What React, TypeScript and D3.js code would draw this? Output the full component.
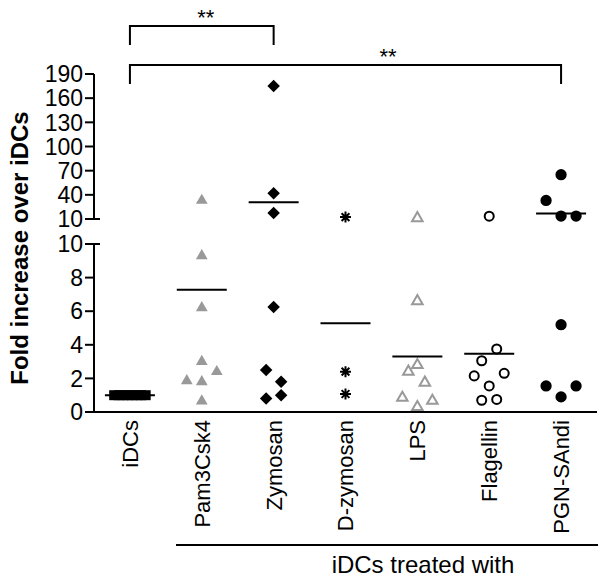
import * as d3 from 'd3';

// categories along the x axis
const categories = ['iDCs', 'Pam3Csk4', 'Zymosan', 'D-zymosan', 'LPS', 'Flagellin', 'PGN-SAndi'];

// fold increase values, one array per group
const iDCsValues = [1, 1, 1, 1, 1, 1, 1, 1];
const pamValues = [33, 9.3, 6.2, 3.0, 2.4, 1.85, 1.8, 0.65];
const zymosanValues = [175, 42, 17.4, 6.25, 2.5, 1.8, 1.0, 0.8];
const dZymosanValues = [12.4, 2.4, 1.07];
const lpsValues = [11, 6.6, 2.8, 2.4, 1.75, 0.85, 0.67, 0.3];
const flagellinValues = [13.5, 3.75, 3.05, 2.3, 2.15, 1.55, 0.7, 0.75];
const pgnValues = [65, 33, 13.7, 13.7, 5.2, 1.55, 1.55, 0.9];

// side-by-side lane of each point (GraphPad spreads overlapping points)
const iDCsLanes = [-1.05, -0.75, -0.45, -0.15, 0.15, 0.45, 0.75, 1.05];
const pamLanes = [0, 0, 0, 0, 1, -1, 0, 0];
const zymosanLanes = [0, 0, 0, 0, -0.5, 0.5, 0.5, -0.5];
const dZymosanLanes = [0, 0, 0];
const lpsLanes = [0, 0, 0, -0.6, 0.5, -1, 1, 0];
const flagellinLanes = [0, 0.5, -0.5, 1, -1, 0, -0.5, 0.5];
const pgnLanes = [0, -1, 0, 1, 0, -1, 1, 0];

// axis ticks
const lowTicks = [0, 2, 4, 6, 8, 10];
const highTicks = [10, 40, 70, 100, 130, 160, 190];

// significance brackets: [from, to, label]
const brackets: [string, string, string][] = [
  ['iDCs', 'Zymosan', '**'],
  ['iDCs', 'PGN-SAndi', '**'],
];

const groupLabel = 'iDCs treated with';
const yTitle = 'Fold increase over iDCs';

const groups = [
  { values: iDCsValues, lanes: iDCsLanes, marker: 'square' },
  { values: pamValues, lanes: pamLanes, marker: 'triangle' },
  { values: zymosanValues, lanes: zymosanLanes, marker: 'diamond' },
  { values: dZymosanValues, lanes: dZymosanLanes, marker: 'asterisk' },
  { values: lpsValues, lanes: lpsLanes, marker: 'triangleOpen' },
  { values: flagellinValues, lanes: flagellinLanes, marker: 'circleOpen' },
  { values: pgnValues, lanes: pgnLanes, marker: 'circle' },
];

const FONT = '"Liberation Sans", Arial, Helvetica, sans-serif';
const GRAY = '#999999';
const LANE = 15;

const x = d3.scaleBand<string>().domain(categories).range([94, 597]);
const cx = (c: string) => (x(c) ?? 0) + x.bandwidth() / 2;

const yLow = d3.scaleLinear().domain([0, 10]).range([412, 244]);
const yHigh = d3.scaleLinear().domain([10, 190]).range([219, 74]);
const y = (v: number) => (v <= 10 ? yLow(v) : yHigh(v));

const triPath = d3.symbol(d3.symbolTriangle, 60)()!;
const triOpenPath = d3.symbol(d3.symbolTriangle, 48)()!;
const squarePath = d3.symbol(d3.symbolSquare, 100)()!;
const diamondPath = d3.symbol(d3.symbolSquare, 78)()!;
const circlePath = d3.symbol(d3.symbolCircle, 100)()!;
const circleOpenPath = d3.symbol(d3.symbolCircle, 64)()!;

function asteriskPath(r: number) {
  const p = d3.path();
  for (let i = 0; i < 4; i++) {
    const a = (i * Math.PI) / 4;
    p.moveTo(-r * Math.cos(a), -r * Math.sin(a));
    p.lineTo(r * Math.cos(a), r * Math.sin(a));
  }
  return p.toString();
}

function Marker({ type, px, py }: { type: string; px: number; py: number }) {
  const t = `translate(${px},${py})`;
  switch (type) {
    case 'square':
      return <path d={squarePath} transform={t} fill="#000" />;
    case 'triangle':
      return <path d={triPath} transform={t} fill={GRAY} />;
    case 'triangleOpen':
      return <path d={triOpenPath} transform={t} fill="#fff" stroke={GRAY} strokeWidth={2} />;
    case 'diamond':
      return <path d={diamondPath} transform={`${t} rotate(45)`} fill="#000" />;
    case 'circle':
      return <path d={circlePath} transform={t} fill="#000" />;
    case 'circleOpen':
      return <path d={circleOpenPath} transform={t} fill="#fff" stroke="#000" strokeWidth={2} />;
    default:
      return <path d={asteriskPath(5.5)} transform={t} stroke="#000" strokeWidth={2} />;
  }
}

export default function App() {
  const axisX = 94;
  return (
    <svg width={605} height={582} style={{ position: 'absolute', left: 0, top: 0 }} fontFamily={FONT}>
      <rect width={605} height={582} fill="#fff" />

      {/* y axis, upper segment */}
      <line x1={axisX} x2={axisX} y1={yHigh(190)} y2={yHigh(10)} stroke="#000" strokeWidth={2} />
      {highTicks.map((t) => (
        <g key={'h' + t}>
          <line x1={axisX - 9} x2={t === 10 ? axisX + 6 : axisX} y1={yHigh(t)} y2={yHigh(t)} stroke="#000" strokeWidth={2} />
          <text x={axisX - 11} y={yHigh(t)} dy="0.36em" textAnchor="end" fontSize={23}>{t}</text>
        </g>
      ))}

      {/* y axis, lower segment */}
      <line x1={axisX} x2={axisX} y1={yLow(10)} y2={yLow(0)} stroke="#000" strokeWidth={2} />
      {lowTicks.map((t) => (
        <g key={'l' + t}>
          <line x1={axisX - 9} x2={t === 10 ? axisX + 6 : axisX} y1={yLow(t)} y2={yLow(t)} stroke="#000" strokeWidth={2} />
          <text x={axisX - 11} y={yLow(t)} dy="0.36em" textAnchor="end" fontSize={23}>{t}</text>
        </g>
      ))}

      {/* x axis */}
      <line x1={axisX - 1} x2={597} y1={yLow(0)} y2={yLow(0)} stroke="#000" strokeWidth={2} />
      {categories.map((c) => (
        <text key={c} transform={`translate(${cx(c)},420) rotate(-90)`} dy="0.36em" textAnchor="end" fontSize={22}>
          {c}
        </text>
      ))}

      {/* group line and label */}
      <line x1={176} x2={598} y1={545} y2={545} stroke="#000" strokeWidth={2} />
      <text x={423} y={573} textAnchor="middle" fontSize={24}>{groupLabel}</text>

      {/* y title */}
      <text transform={`translate(28,248) rotate(-90)`} textAnchor="middle" fontSize={24} fontWeight="bold">
        {yTitle}
      </text>

      {/* points and means */}
      {groups.map((g, gi) => {
        const c = categories[gi];
        const m = d3.mean(g.values) ?? 0;
        return (
          <g key={c}>
            {g.values.map((v, i) => (
              <Marker key={i} type={g.marker} px={cx(c) + g.lanes[i] * LANE} py={y(v)} />
            ))}
            <line x1={cx(c) - 25} x2={cx(c) + 25} y1={y(m)} y2={y(m)} stroke="#000" strokeWidth={2} />
          </g>
        );
      })}

      {/* significance brackets */}
      {brackets.map(([a, b, label], i) => {
        const top = i === 0 ? 26 : 65;
        const drop = 19;
        const x1 = cx(a);
        const x2 = cx(b);
        return (
          <g key={i}>
            <path d={`M${x1},${top + drop}V${top}H${x2}V${top + drop}`} fill="none" stroke="#000" strokeWidth={2} />
            <text x={i === 0 ? (x1 + x2) / 2 + 4 : 388} y={top - 1} textAnchor="middle" fontSize={22}>{label}</text>
          </g>
        );
      })}
    </svg>
  );
}
